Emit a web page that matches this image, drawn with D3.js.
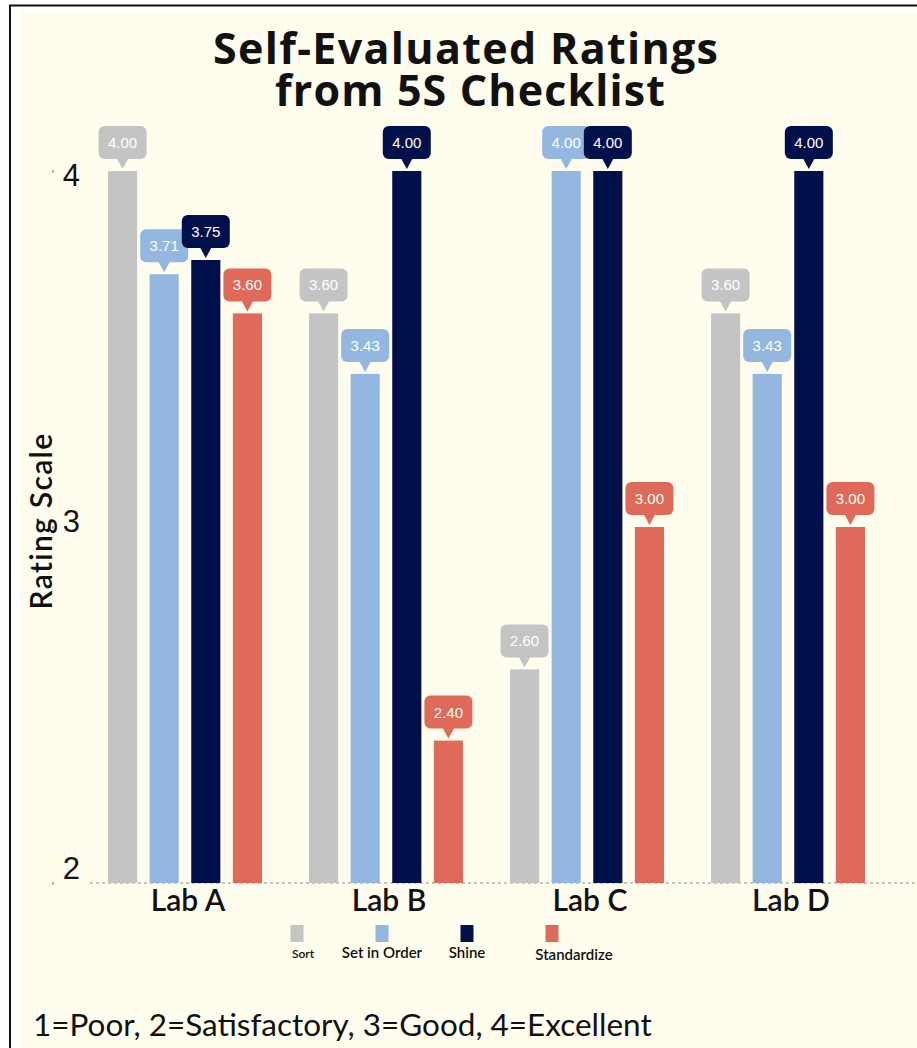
<!DOCTYPE html>
<html>
<head>
<meta charset="utf-8">
<script src="https://cdn.jsdelivr.net/npm/d3@7"></script>
<style>
  html, body { margin: 0; padding: 0; background: #ffffff; }
  svg { display: block; }
</style>
</head>
<body>
<svg id="chart" width="917" height="1048"></svg>
<script>
// ---- data ----
const labs = ["Lab A", "Lab B", "Lab C", "Lab D"];
const seriesNames = ["Sort", "Set in Order", "Shine", "Standardize"];
const sortValues = [4.00, 3.60, 2.60, 3.60];
const setInOrderValues = [3.71, 3.43, 4.00, 3.43];
const shineValues = [3.75, 4.00, 4.00, 4.00];
const standardizeValues = [3.60, 2.40, 3.00, 3.00];
const yTicks = [2, 3, 4];
const titleLines = ["Self-Evaluated Ratings", "from 5S Checklist"];
const yAxisTitle = "Rating Scale";
const footnote = "1=Poor, 2=Satisfactory, 3=Good, 4=Excellent";

// ---- styling ----
const seriesColors = ["#c4c4c4", "#94b7df", "#00104a", "#e06a5a"];
const cream = "#fefdee";

const seriesValues = [sortValues, setInOrderValues, shineValues, standardizeValues];
const rows = labs.map((lab, i) => ({
  lab,
  bars: seriesNames.map((s, j) => ({ series: s, idx: j, value: seriesValues[j][i] }))
}));

const svg = d3.select("#chart");
const W = 917, H = 1048;

// spread a text's letters so that it spans the given width
function spreadTo(sel, width) {
  const n = sel.text().length;
  const w = sel.node().getComputedTextLength();
  sel.attr("letter-spacing", (width - w) / (n - 1));
}

// page frame
svg.append("rect").attr("x", 0).attr("y", 0).attr("width", W).attr("height", H).attr("fill", "#ffffff");
svg.append("rect").attr("x", 19).attr("y", 10).attr("width", W - 19).attr("height", H - 10).attr("fill", cream);
svg.append("line").attr("x1", 9).attr("x2", W).attr("y1", 5.5).attr("y2", 5.5)
  .attr("stroke", "#111").attr("stroke-width", 2);
svg.append("line").attr("x1", 10).attr("x2", 10).attr("y1", 5).attr("y2", H)
  .attr("stroke", "#111").attr("stroke-width", 2);

// scales
const y = d3.scaleLinear().domain([2, 4]).range([883, 171]);
const x0 = d3.scaleBand().domain(labs).range([108, 865]).paddingInner(0.234).paddingOuter(0);
const x1 = d3.scaleBand().domain(seriesNames).range([0, x0.bandwidth()]).paddingInner(0.3).paddingOuter(0);
// tick labels sit on a slightly tighter band than the bars
const yLabel = d3.scaleLinear().domain([2, 4]).range([878, 185]);

// title: two lines in one text block
const title = svg.append("text")
  .attr("font-family", "'Open Sans', Lato, sans-serif")
  .attr("font-weight", 700).attr("font-size", 43).attr("fill", "#111");
const t1 = title.append("tspan").attr("x", 213).attr("y", 64).text(titleLines[0]);
const t2 = title.append("tspan").attr("x", 275).attr("y", 106).text(titleLines[1]);
spreadTo(t1, 505);
spreadTo(t2, 390);

// y axis
const yAxis = svg.append("g").attr("transform", "translate(80,0)")
  .call(d3.axisLeft(y).tickValues(yTicks).tickFormat(d3.format("d")).tickSize(0).tickPadding(0));
yAxis.select(".domain").remove();
yAxis.selectAll(".tick text")
  .attr("font-family", "'Liberation Sans', Arial, sans-serif")
  .attr("font-size", 31)
  .attr("fill", "#111")
  .attr("dy", d => yLabel(d) - y(d));
yAxis.selectAll(".tick").append("rect")
  .attr("x", -28).attr("y", -1).attr("width", 2).attr("height", 2).attr("fill", "#9a9a9a");

const yTitle = svg.append("text")
  .attr("transform", "translate(52,521) rotate(-90)")
  .attr("text-anchor", "middle")
  .attr("font-family", "Lato, 'Open Sans', sans-serif")
  .attr("font-size", 30)
  .attr("font-weight", 600)
  .attr("fill", "#111")
  .text(yAxisTitle);
spreadTo(yTitle, 176);

// baseline
svg.append("line").attr("x1", 90).attr("x2", W).attr("y1", y(2)).attr("y2", y(2))
  .attr("stroke", "#8f8f8f").attr("stroke-width", 1.2).attr("stroke-dasharray", "3,3");

// bars
const groups = svg.append("g").selectAll("g").data(rows).join("g")
  .attr("transform", d => `translate(${x0(d.lab)},0)`);

groups.selectAll("rect").data(d => d.bars).join("rect")
  .attr("x", d => x1(d.series))
  .attr("y", d => y(d.value))
  .attr("width", x1.bandwidth())
  .attr("height", d => y(2) - y(d.value))
  .attr("fill", d => seriesColors[d.idx]);

// value callouts
const boxW = 48, boxH = 33, gap = 12, radius = 6;
const callouts = groups.selectAll("g.callout").data(d => d.bars).join("g")
  .attr("class", "callout")
  .attr("transform", d => `translate(${x1(d.series) + x1.bandwidth() / 2},${y(d.value)})`);
callouts.append("rect")
  .attr("x", -boxW / 2).attr("y", -gap - boxH)
  .attr("width", boxW).attr("height", boxH).attr("rx", radius)
  .attr("fill", d => seriesColors[d.idx]);
callouts.append("path")
  .attr("d", `M-6,${-gap - 1}L6,${-gap - 1}L0,${-2}Z`)
  .attr("fill", d => seriesColors[d.idx]);
callouts.append("text")
  .attr("y", -gap - boxH / 2 + 5.5)
  .attr("text-anchor", "middle")
  .attr("font-family", "'Liberation Sans', Arial, sans-serif")
  .attr("font-size", 15)
  .attr("fill", "#ffffff")
  .text(d => d3.format(".2f")(d.value));

// category labels
svg.append("g").selectAll("text").data(labs).join("text")
  .attr("x", d => x0(d) + x0.bandwidth() / 2 + 3)
  .attr("y", 911)
  .attr("text-anchor", "middle")
  .attr("font-family", "Lato, 'Open Sans', sans-serif")
  .attr("font-size", 30)
  .attr("font-weight", 600)
  .attr("fill", "#111")
  .text(d => d);

// legend
const legendX = d3.scalePoint().domain(seriesNames).range([297, 552]);
const legendNudge = [6, 0, 0, 22];
const legendSize = [12, 15, 15, 15];
const lg = svg.append("g").selectAll("g").data(seriesNames).join("g")
  .attr("transform", d => `translate(${legendX(d)},0)`);
lg.append("rect").attr("x", -6.5).attr("y", 925).attr("width", 13).attr("height", 17)
  .attr("fill", (d, i) => seriesColors[i]);
lg.append("text")
  .attr("x", (d, i) => legendNudge[i])
  .attr("y", (d, i) => i === 3 ? 960 : 958)
  .attr("text-anchor", "middle")
  .attr("font-family", "Lato, 'Open Sans', sans-serif")
  .attr("font-weight", 600)
  .attr("font-size", (d, i) => legendSize[i])
  .attr("fill", "#111")
  .text(d => d);

// footnote
const fn = svg.append("text")
  .attr("x", 33).attr("y", 1036)
  .attr("font-family", "Lato, 'Open Sans', sans-serif")
  .attr("font-size", 28)
  .attr("fill", "#111")
  .text(footnote);
const fnSize = 28 * 619 / fn.node().getComputedTextLength();
fn.attr("font-size", fnSize);
</script>
</body>
</html>
